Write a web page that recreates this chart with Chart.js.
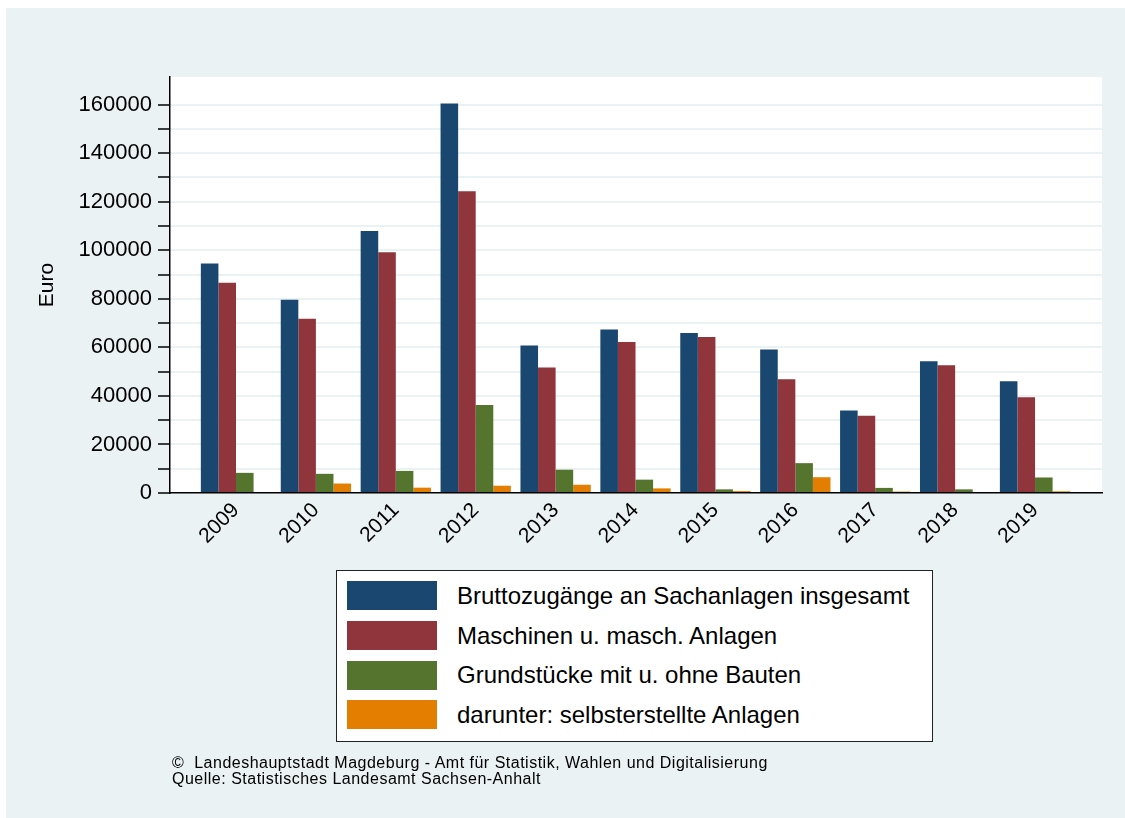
<!DOCTYPE html>
<html lang="de">
<head>
<meta charset="utf-8">
<script src="https://cdn.jsdelivr.net/npm/chart.js@4"></script>
<style>
    html, body { margin: 0; background: #fff; overflow: hidden; font-family: "Liberation Sans", Arial, sans-serif; }
    .panel { position: absolute; left: 6px; top: 8px; width: 1119px; height: 810px; background: #eaf2f3; }
    #chart { position: absolute; left: 0; top: 0; }
    .legend {
        position: absolute; left: 336px; top: 570px; width: 597px; height: 172px;
        box-sizing: border-box; border: 1.5px solid #222; background: #fff;
        padding: 5px 0 0 10px;
    }
    .legend-item { display: flex; align-items: center; height: 39.7px; }
    .legend-item span.swatch { width: 90px; height: 29px; margin-right: 20px; flex: none; }
    .legend-item span.text { font-size: 24px; color: #000; white-space: nowrap; }
    .footer {
        position: absolute; left: 172px; top: 755px; font-size: 16px; line-height: 16px;
        letter-spacing: 0.5px; color: #000; white-space: nowrap;
    }
</style>
</head>
<body>
<div class="panel"></div>
<canvas id="chart" width="1125" height="818"></canvas>
<div class="legend" id="legend"></div>
<div class="footer">©&nbsp; Landeshauptstadt Magdeburg - Amt für Statistik, Wahlen und Digitalisierung<br>Quelle: Statistisches Landesamt Sachsen-Anhalt</div>
<script>
const years = ['2009', '2010', '2011', '2012', '2013', '2014', '2015', '2016', '2017', '2018', '2019'];
const bruttozugaenge = [94600, 79600, 107900, 160500, 60800, 67400, 65900, 59100, 34000, 54300, 46000];
const maschinen = [86600, 71800, 99200, 124300, 51700, 62200, 64300, 46900, 31800, 52600, 39400];
const grundstuecke = [8300, 7900, 9100, 36300, 9600, 5500, 1500, 12300, 2100, 1500, 6400];
const selbsterstellt = [0, 3900, 2200, 3000, 3400, 1900, 800, 6500, 600, 0, 700];

// y ticks: marks every 10000, labels on every second one
const yTicks = [0, 10000, 20000, 30000, 40000, 50000, 60000, 70000, 80000,
    90000, 100000, 110000, 120000, 130000, 140000, 150000, 160000];
const yLabels = [0, 20000, 40000, 60000, 80000, 100000, 120000, 140000, 160000];

const seriesLabels = [
    'Bruttozugänge an Sachanlagen insgesamt',
    'Maschinen u. masch. Anlagen',
    'Grundstücke mit u. ohne Bauten',
    'darunter: selbsterstellte Anlagen',
];
const seriesColors = ['#1a476f', '#90353b', '#55752f', '#e37e00'];
const seriesData = [bruttozugaenge, maschinen, grundstuecke, selbsterstellt];

const FONT = '"Liberation Sans", Arial, sans-serif';

// white plot area
const plotBackground = {
    id: 'plotBackground',
    beforeDraw(chart) {
        const { ctx, chartArea: a } = chart;
        ctx.save();
        ctx.fillStyle = '#fff';
        ctx.fillRect(a.left, a.top, a.right - a.left, a.bottom - a.top);
        ctx.restore();
    },
};

const chart = new Chart(document.getElementById('chart'), {
    type: 'bar',
    data: {
        labels: years,
        datasets: seriesData.map((d, i) => ({
            label: seriesLabels[i],
            data: d,
            backgroundColor: seriesColors[i],
            borderWidth: 0,
            categoryPercentage: 0.88,
            barPercentage: 1,
        })),
    },
    options: {
        responsive: false,
        animation: false,
        devicePixelRatio: 1,
        layout: { padding: { top: 77, right: 23, left: 0, bottom: 0 } },
        plugins: { legend: { display: false }, tooltip: { enabled: false } },
        scales: {
            x: {
                type: 'linear',
                offset: false,
                min: 2008.174,
                max: 2019.838,
                afterBuildTicks: (s) => { s.ticks = years.map((y) => ({ value: +y })); },
                afterFit: (s) => { s.height = 325; },
                grid: { display: false },
                border: { display: true, color: '#000', width: 1.5 },
                ticks: {
                    color: '#000',
                    font: { family: FONT, size: 21 },
                    minRotation: 45,
                    maxRotation: 45,
                    autoSkip: false,
                    padding: -3,
                    callback: (v) => String(v),
                },
            },
            y: {
                type: 'linear',
                min: 0,
                max: 171400,
                afterBuildTicks: (s) => { s.ticks = yTicks.map((v) => ({ value: v })); },
                afterFit: (s) => { s.width = 170; },
                grid: { color: '#eaf2f3', lineWidth: 2, tickColor: '#000', tickWidth: 1.5, tickLength: 12 },
                border: { display: true, color: '#000', width: 1.5 },
                ticks: {
                    autoSkip: false,
                    color: '#000',
                    padding: 6,
                    font: { family: FONT, size: 22 },
                    callback: (v) => (yLabels.includes(v) ? String(v) : ''),
                },
                title: {
                    display: true,
                    text: 'Euro',
                    color: '#000',
                    font: { family: FONT, size: 21, lineHeight: 1.2 },
                    padding: { top: 35, bottom: 0 },
                },
            },
        },
    },
    plugins: [plotBackground],
});

const legend = document.getElementById('legend');
chart.data.datasets.forEach((ds) => {
    const row = document.createElement('div');
    row.className = 'legend-item';
    row.innerHTML = `<span class="swatch" style="background:${ds.backgroundColor}"></span><span class="text">${ds.label}</span>`;
    legend.appendChild(row);
});
</script>
</body>
</html>
